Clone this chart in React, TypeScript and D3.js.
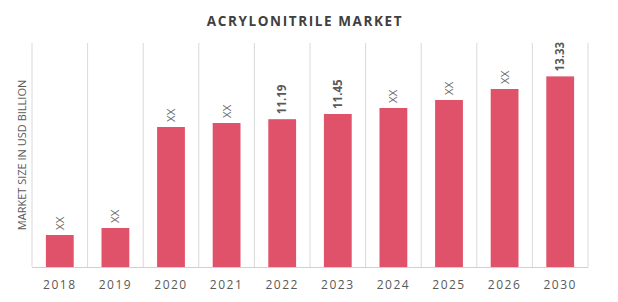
import React from "react";
import * as d3 from "d3";

const years = ["2018", "2019", "2020", "2021", "2022", "2023", "2024", "2025", "2026", "2030"];
const values = [5.4, 5.75, 10.8, 11.0, 11.19, 11.45, 11.75, 12.15, 12.7, 13.33];
const labels = ["XX", "XX", "XX", "XX", "11.19", "11.45", "XX", "XX", "XX", "13.33"];
const yDomain = [3.8, 15];

const W = 618, H = 302;
const m = { left: 32, right: 30, top: 43, bottom: 35 };

export default function App() {
  const x = d3.scaleBand<string>().domain(years).range([m.left, W - m.right]).paddingInner(0.5).paddingOuter(0.25);
  const band = d3.scaleBand<string>().domain(years).range([m.left, W - m.right]);
  const y = d3.scaleLinear().domain(yDomain).range([H - m.bottom, m.top]);
  const font = "'Open Sans', 'DejaVu Sans', sans-serif";
  const grid = band.domain().map((d) => band(d)!).concat([W - m.right]);
  return (
    <svg width={W} height={H} style={{ position: "absolute", left: 0, top: 0, background: "#fff" }}>
      <text x={305} y={26} textAnchor="middle" fontFamily={font} fontWeight={700} fontSize={13.5} fill="#404040" letterSpacing={1.6}>
        ACRYLONITRILE MARKET
      </text>
      {grid.map((gx, i) => (
        <line key={i} x1={gx} x2={gx} y1={m.top} y2={H - m.bottom} stroke="#d9d9d9" strokeWidth={1} />
      ))}
      <line x1={m.left} x2={W - m.right} y1={H - m.bottom + 0.5} y2={H - m.bottom + 0.5} stroke="#d0d0d0" />
      {years.map((d, i) => (
        <rect key={d} x={x(d)} width={x.bandwidth()} y={y(values[i])} height={y(yDomain[0]) - y(values[i])} fill="#e0516a" />
      ))}
      {years.map((d, i) => {
        const cx = x(d)! + x.bandwidth() / 2;
        const ty = y(values[i]) - 5;
        const isNum = labels[i] !== "XX";
        return (
          <text key={d} transform={`translate(${cx + 4},${ty}) rotate(-90)`} fontFamily={font} fontSize={11.5}
            fontWeight={isNum ? 700 : 400} fill={isNum ? "#595959" : "#666"}>
            {labels[i]}
          </text>
        );
      })}
      {years.map((d) => (
        <text key={d} x={x(d)! + x.bandwidth() / 2} y={289} textAnchor="middle" fontFamily={font} fontSize={12} fill="#595959" letterSpacing={1.5}>
          {d}
        </text>
      ))}
      <text transform={`translate(26,155) rotate(-90)`} textAnchor="middle" fontFamily={font} fontSize={11} fill="#595959">
        MARKET SIZE IN USD BILLION
      </text>
    </svg>
  );
}
